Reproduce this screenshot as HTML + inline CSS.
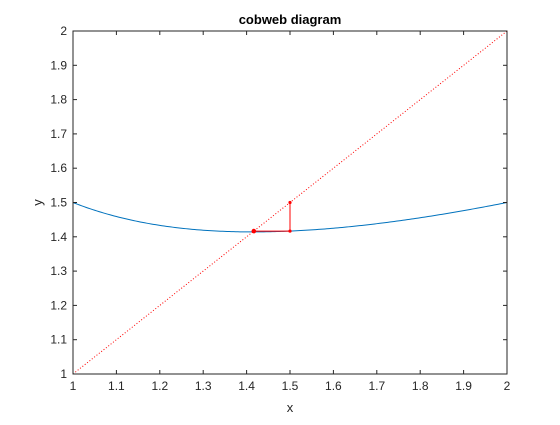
<!DOCTYPE html>
<html><head><meta charset="utf-8"><style>
body{margin:0;background:#fff;width:560px;height:420px;overflow:hidden}
text{font-family:"Liberation Sans",Arial,sans-serif;font-size:12px;fill:#262626}
</style></head><body>
<svg id="chart" width="560" height="420" xmlns="http://www.w3.org/2000/svg">
<rect width="560" height="420" fill="#fff"/>
</svg>
<script>
const xTicks=[1,1.1,1.2,1.3,1.4,1.5,1.6,1.7,1.8,1.9,2];
const yTicks=[1,1.1,1.2,1.3,1.4,1.5,1.6,1.7,1.8,1.9,2];
const cobX=[1.5,1.5,1.4166667];
const cobY=[1.5,1.4166667,1.4166667];
const L=73,T=31,R=507,B=374;
const sx=v=>L+(v-1)*(R-L);
const sy=v=>B-(v-1)*(B-T);
const svg=document.getElementById('chart');
const NS='http://www.w3.org/2000/svg';
function mk(tag,attrs,name){const e=document.createElementNS(NS,tag);for(const k in attrs)e.setAttribute(k,attrs[k]);


svg.appendChild(e);return e;}
mk('rect',{x:L,y:T,width:R-L,height:B-T,fill:'#fff',stroke:'none'},'plot-area');
// curve
let d='';for(let i=0;i<=200;i++){const x=1+i/200;const y=x/2+1/x;d+=(i?'L':'M')+sx(x).toFixed(2)+','+sy(y).toFixed(2);}
mk('path',{d:d,fill:'none',stroke:'#0072BD','stroke-width':1},'function-curve');
mk('line',{x1:sx(1),y1:sy(1),x2:sx(2),y2:sy(2),stroke:'#ff0000','stroke-width':1,'stroke-dasharray':'1,2'},'identity-line');
let cd='';cobX.forEach((x,i)=>{cd+=(i?'L':'M')+sx(x)+','+sy(cobY[i]);});
mk('path',{d:cd,fill:'none',stroke:'#ff0000','stroke-width':1},'cobweb-path');
cobX.forEach((x,i)=>{mk('circle',{cx:sx(x),cy:sy(cobY[i]),r:i==2?2.3:1.6,fill:'#ff0000'},'cobweb-point');});
mk('rect',{x:L,y:T,width:R-L,height:B-T,fill:'none',stroke:'#262626','stroke-width':1},'axes-box');
xTicks.forEach(v=>{const x=sx(v);
mk('line',{x1:x,y1:B,x2:x,y2:B-4,stroke:'#262626'},'x-tick');
mk('line',{x1:x,y1:T,x2:x,y2:T+4,stroke:'#262626'},'x-tick-top');
const t=mk('text',{x:x,y:B+16,'text-anchor':'middle'},'x-tick-label');t.textContent=String(v);});
yTicks.forEach(v=>{const y=sy(v);
mk('line',{x1:L,y1:y,x2:L+4,y2:y,stroke:'#262626'},'y-tick');
mk('line',{x1:R,y1:y,x2:R-4,y2:y,stroke:'#262626'},'y-tick-right');
const t=mk('text',{x:L-6,y:y+4,'text-anchor':'end'},'y-tick-label');t.textContent=String(v);});
let t=mk('text',{x:(L+R)/2,y:24,'text-anchor':'middle','font-weight':'bold','style':'font-size:13px;font-weight:bold;fill:#000'},'chart-title');t.textContent='cobweb diagram';
t=mk('text',{x:(L+R)/2,y:412,'text-anchor':'middle','style':'font-size:13px'},'x-axis-title');t.textContent='x';
t=mk('text',{x:42,y:(T+B)/2,'text-anchor':'middle','transform':'rotate(-90 42 '+(T+B)/2+')','style':'font-size:13px'},'y-axis-title');t.textContent='y';
</script>
</body></html>
